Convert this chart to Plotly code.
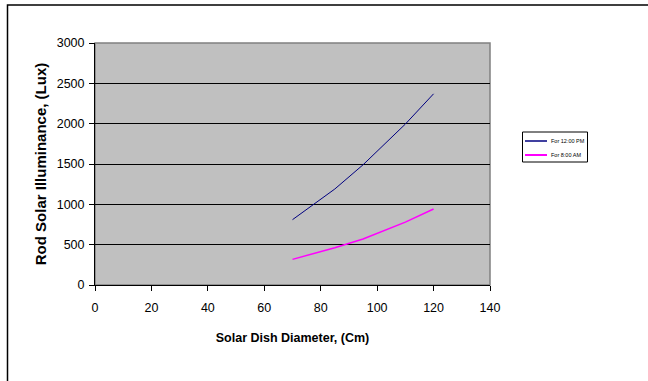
import plotly.graph_objects as go

# Data
diameter_cm = [70, 85, 95, 110, 120]
lux_12pm = [810, 1190, 1490, 1995, 2370]
lux_8am = [318, 462, 570, 780, 942]
series_names = ["For 12:00 PM", "For 8:00 AM"]
series_colors = ["#000080", "#FF00FF"]
series_widths = [1, 1.5]
x_ticks = [0, 20, 40, 60, 80, 100, 120, 140]
y_ticks = [0, 500, 1000, 1500, 2000, 2500, 3000]

FONT = "Liberation Sans, Arial, sans-serif"

fig = go.Figure()
for xs, ys, name, col, w in zip([diameter_cm, diameter_cm], [lux_12pm, lux_8am],
                                series_names, series_colors, series_widths):
    fig.add_trace(go.Scatter(x=xs, y=ys, mode="lines", name=name,
                             line=dict(color=col, width=w), showlegend=False))

# plot area in pixels: x 95..490, y 43..285
def px_x(px):
    return (px - 95) / 395.0

def px_y(py):
    return (285 - py) / 242.0

shapes = [
    # grey plot-area frame (top and right)
    dict(type="rect", xref="paper", yref="paper", x0=0, x1=1, y0=0, y1=1,
         line=dict(color="#808080", width=1.5), fillcolor="rgba(0,0,0,0)", layer="between"),
    # outer chart border
    dict(type="rect", xref="paper", yref="paper", x0=px_x(7.5), x1=px_x(700),
         y0=px_y(420), y1=px_y(5),
         line=dict(color="black", width=1.5), fillcolor="rgba(0,0,0,0)", layer="below"),
    # legend box
    dict(type="rect", xref="paper", yref="paper", x0=px_x(522.5), x1=px_x(587.5),
         y0=px_y(162), y1=px_y(132),
         line=dict(color="black", width=1), fillcolor="white", layer="above"),
]
annotations = []
legend_rows_y = [141, 155]
for name, col, w, ry in zip(series_names, series_colors, series_widths, legend_rows_y):
    shapes.append(dict(type="line", xref="paper", yref="paper",
                       x0=px_x(525), x1=px_x(547), y0=px_y(ry), y1=px_y(ry),
                       line=dict(color=col, width=w + 0.5), layer="above"))
    annotations.append(dict(text=name, xref="paper", yref="paper",
                            x=px_x(549), y=px_y(ry), xanchor="left", yanchor="middle",
                            showarrow=False, font=dict(size=5.5, family=FONT, color="black")))

fig.update_layout(
    width=648, height=381,
    margin=dict(l=95, r=158, t=43, b=96, autoexpand=False),
    paper_bgcolor="white",
    plot_bgcolor="#C0C0C0",
    font=dict(family=FONT, size=12, color="black"),
    showlegend=False,
    xaxis=dict(range=[0, 140], tickvals=x_ticks, showgrid=False, zeroline=False,
               showline=True, linecolor="black", linewidth=1,
               ticks="outside", ticklen=5, tickcolor="black",
               tickfont=dict(size=12.5), ticklabelstandoff=6,
               title=dict(text="<b>Solar Dish Diameter, (Cm)</b>", font=dict(size=12.5),
                          standoff=19)),
    yaxis=dict(range=[0, 3000], tickvals=y_ticks, showgrid=True, gridcolor="black",
               gridwidth=1, zeroline=False,
               showline=True, linecolor="black", linewidth=1,
               ticks="outside", ticklen=5, tickcolor="black",
               tickfont=dict(size=12.5), ticklabelstandoff=2,
               title=dict(text="<b>Rod Solar Illuminance, (Lux)</b>", font=dict(size=15),
                          standoff=6)),
    shapes=shapes,
    annotations=annotations,
)
fig.update_xaxes(layer="above traces")
fig.update_yaxes(layer="above traces")

fig.write_html("out.html")
